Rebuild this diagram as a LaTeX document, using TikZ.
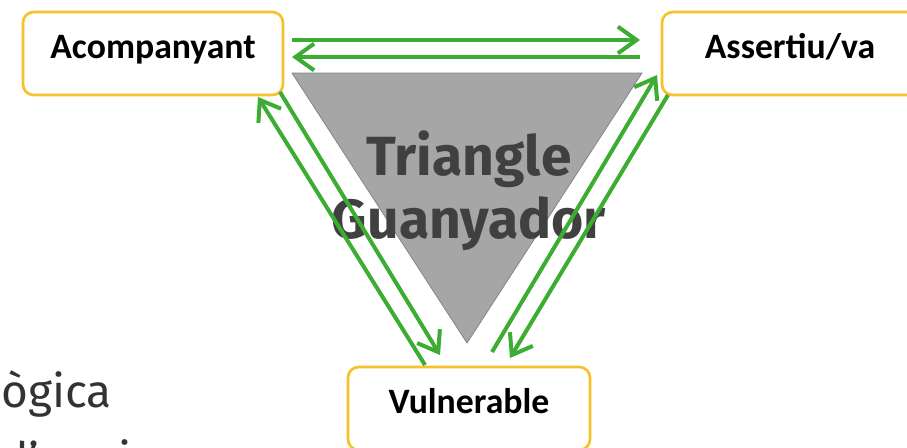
\documentclass[tikz,border=0pt]{standalone}
\usepackage{fontspec}
\usepackage{tikz}
\usetikzlibrary{arrows.meta, positioning, calc}
\newfontfamily\labelfont{Carlito}
\newfontfamily\firafont{Fira Sans}
\definecolor{arrowgreen}{RGB}{60,172,50}
\definecolor{boxgold}{RGB}{245,195,40}
\definecolor{trianglegray}{RGB}{166,166,166}
\definecolor{titlegray}{RGB}{64,64,64}
\definecolor{slidetext}{RGB}{51,51,51}

\begin{document}
\begin{tikzpicture}[x=0.75pt, y=-0.75pt,
    rolebox/.style={rectangle, draw=boxgold, line width=2pt, rounded corners=8pt, fill=white,
                 inner xsep=0pt, inner ysep=0pt, outer sep=0pt, text height=34.5pt, text depth=27.75pt,
                 anchor=base, font=\labelfont\bfseries\fontsize{26.8}{32}\selectfont},
    flow/.style={draw=arrowgreen, line width=3pt, -{Straight Barb[length=14pt, width=20pt]}}
]
    \useasboundingbox (0,0) rectangle (907,447);

    % central triangle
    \filldraw[fill=trianglegray, draw=trianglegray!80!black, line width=0.6pt]
        (292,73) -- (642,73) -- (467,343) -- cycle;
    \node[font=\firafont\bfseries\fontsize{41.4}{47}\selectfont, text=titlegray, align=center,
          anchor=base] (winner) at (469,238) {Triangle\\Guanyador};

    \node[rolebox, minimum width=195pt] (acomp) at (153,58) {Acompanyant};
    \node[rolebox, minimum width=192pt] (assert) at (790,58) {Assertiu/va};
    \node[rolebox, minimum width=181.5pt] (vuln) at (469,413) {Vulnerable};

    \node[font=\firafont\fontsize{34.5}{51}\selectfont, text=slidetext, align=left,
          anchor=base west, inner sep=0pt] (slide) at (1,475) {ògica\\d’equip};

    \draw[flow] ($(acomp.east)+(9,-13.5)$) -- ($(assert.west)+(-22,-13.5)$);
    \draw[flow] ($(assert.west)+(-22,3.5)$) -- ($(acomp.east)+(9,3.5)$);
    \draw[flow] ($(vuln.north west)+(77,-2)$) -- ($(acomp.south east)+(-25,2)$);
    \draw[flow] ($(acomp.south east)+(-3,-3)$) -- ($(vuln.north west)+(92,-12)$);
    \draw[flow] ($(vuln.north west)+(144,-15)$) -- ($(assert.south west)+(-5,-20)$);
    \draw[flow] ($(assert.south west)+(6,0)$) -- ($(vuln.north west)+(162,-9)$);
\end{tikzpicture}
\end{document}
